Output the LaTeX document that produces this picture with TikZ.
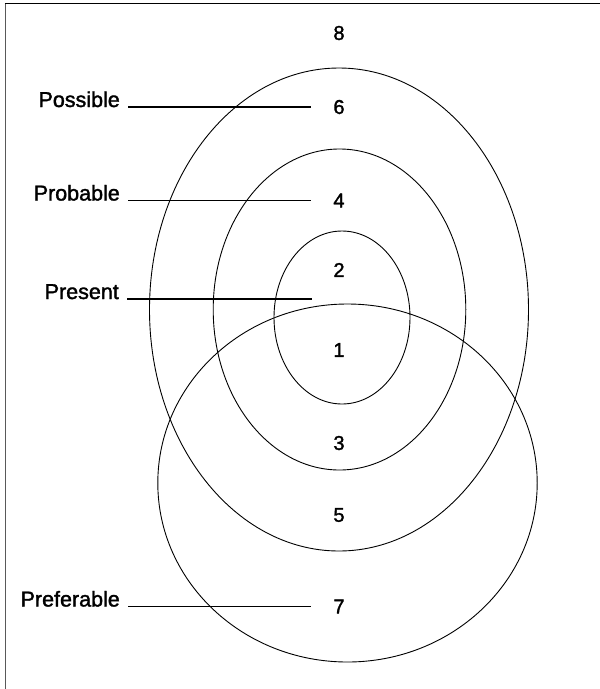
\documentclass[tikz,border=0pt]{standalone}
\usepackage{fontspec}
\setsansfont{Liberation Sans}[FakeBold=1.6]
\usetikzlibrary{positioning}

\begin{document}
\begin{tikzpicture}[
  x=1pt, y=-1pt,
  font=\sffamily\fontsize{20}{24}\selectfont,
  ring/.style = {draw, line width=0.9pt},
  num/.style  = {inner sep=0pt},
  lbl/.style  = {inner sep=0pt, anchor=base east, font=\sffamily\fontsize{21.5}{25}\selectfont},
  lead/.style = {draw, line width=1.1pt, shorten <=8pt},
]
\useasboundingbox (0,0) rectangle (600,689);

% ======================= frame ==========================================
\draw[line width=1.5pt, black!65] (5.5,689) -- (5.5,3);
\draw[line width=1pt] (4.75,3) -- (600,3);

% ======================= rings ==========================================
\draw[ring] (339,309.5)   ellipse [x radius=189.5pt, y radius=241.5pt]; % possible
\draw[ring] (339.5,309.5) ellipse [x radius=126.3pt, y radius=160.5pt]; % probable
\draw[ring] (342,317.5)   ellipse [x radius=68pt,    y radius=86.5pt];  % present
\draw[ring] (347.5,483)   ellipse [x radius=189.7pt, y radius=179pt];   % preferable

% ======================= region numbers =================================
\node[num] (n8) at (339,33)    {8};
\node[num] (n6) at (339,107)   {6};
\node[num] (n4) at (339,200.5) {4};
\node[num] (n2) at (339,270)   {2};
\node[num] (n1) at (339,350)   {1};
\node[num] (n3) at (339,443)   {3};
\node[num] (n5) at (339,515)   {5};
\node[num] (n7) at (339,606.5) {7};

% ======================= labels and leaders =============================
\node[lbl] (possible)   at (120,107)   {Possible};
\node[lbl] (probable)   at (120,200.5) {Probable};
\node[lbl] (present)    at (119,299)   {Present};
\node[lbl] (preferable) at (120,606.5) {Preferable};
\coordinate (presentend) at (312,299);

\draw[lead, shorten >=22pt] (possible.base east)   -- (n6.west);
\draw[lead, shorten >=22pt] (probable.base east)   -- (n4.west);
\draw[lead]                 (present.base east)    -- (presentend);
\draw[lead, shorten >=22pt] (preferable.base east) -- (n7.west);

\end{tikzpicture}
\end{document}
